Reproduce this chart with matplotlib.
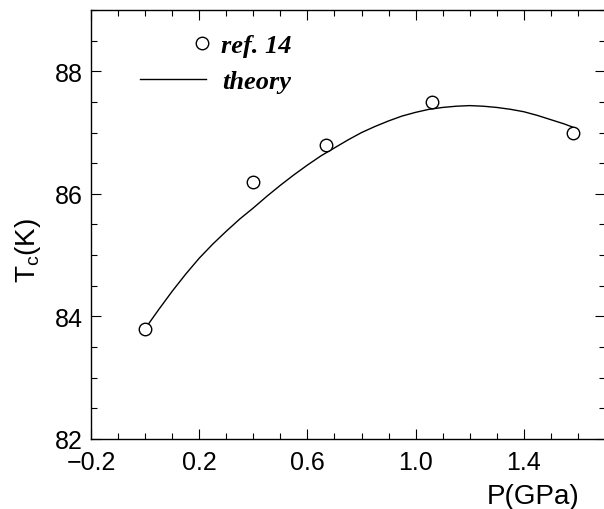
import matplotlib
matplotlib.use('Agg')
import matplotlib.pyplot as plt
from matplotlib.ticker import MultipleLocator

plt.rcParams['font.family'] = ['Liberation Sans', 'DejaVu Sans']
plt.rcParams['mathtext.fontset'] = 'custom'
plt.rcParams['mathtext.rm'] = 'Liberation Sans'
plt.rcParams['mathtext.it'] = 'Liberation Sans'

# Datos experimentales (ref. 14)
p_exp = [0.0, 0.40, 0.67, 1.06, 1.58]
tc_exp = [83.8, 86.2, 86.8, 87.5, 87.0]

# Curva teorica
p_th = [0.00, 0.05, 0.10, 0.15, 0.20, 0.25, 0.30, 0.35, 0.40, 0.45, 0.50,
        0.55, 0.60, 0.65, 0.70, 0.75, 0.80, 0.85, 0.90, 0.95, 1.00, 1.05,
        1.10, 1.15, 1.20, 1.25, 1.30, 1.35, 1.40, 1.45, 1.50, 1.55, 1.58]
tc_th = [83.80, 84.11, 84.41, 84.69, 84.95, 85.18, 85.39, 85.59, 85.77,
         85.96, 86.14, 86.31, 86.47, 86.62, 86.75, 86.88, 87.00, 87.10,
         87.19, 87.27, 87.33, 87.38, 87.41, 87.43, 87.44, 87.43, 87.41,
         87.38, 87.34, 87.28, 87.21, 87.14, 87.09]

W, H = 604, 510
fig = plt.figure(figsize=(W / 100, H / 100), dpi=100)
# el borde derecho queda justo fuera de la imagen, como en el original
ax = fig.add_axes([91 / W, 1 - 440 / H, (605 - 91) / W, (440 - 11) / H])

ax.plot(p_th, tc_th, color='black', lw=1.0)
ax.plot(p_exp, tc_exp, 'o', mfc='white', mec='black', ms=9, mew=1.0,
        linestyle='none')

ax.set_xlim(-0.2, 1.7)
ax.set_ylim(82, 89)
ax.xaxis.set_minor_locator(MultipleLocator(0.1))
ax.yaxis.set_major_locator(MultipleLocator(2))
ax.yaxis.set_minor_locator(MultipleLocator(0.5))
ax.set_xticks([-0.2, 0.2, 0.6, 1.0, 1.4])
ax.set_xticklabels(['\u22120.2', '0.2', '0.6', '1.0', '1.4'])
ax.tick_params(which='both', direction='in', top=True, right=True,
               labelsize=18, width=0.8)
ax.tick_params(which='major', length=7)
ax.tick_params(which='minor', length=4)
ax.tick_params(axis='x', pad=8)
ax.tick_params(axis='y', pad=6)
for s in ax.spines.values():
    s.set_linewidth(1.0)

# Leyenda: dos cajas para imitar la disposicion original
fs = 19
fp = {'family': 'Liberation Serif', 'weight': 'bold', 'style': 'italic', 'size': fs}
h1, = ax.plot([], [], 'o', mfc='white', mec='black', ms=9, mew=1.0)
h2, = ax.plot([], [], color='black', lw=1.0)
leg1 = ax.legend([h1], ['ref. 14'], loc='center left', prop=fp, frameon=False,
                 borderpad=0, borderaxespad=0, handlelength=0.5,
                 handletextpad=0.5, bbox_to_anchor=(195 / W, 1 - 46 / H),
                 bbox_transform=fig.transFigure)
ax.add_artist(leg1)
ax.legend([h2], ['theory'], loc='center left', prop=fp, frameon=False,
          borderpad=0, borderaxespad=0, handlelength=2.5,
          handletextpad=0.6, bbox_to_anchor=(140 / W, 1 - 82 / H),
          bbox_transform=fig.transFigure)

fig.text(533 / W, 1 - 497 / H, 'P(GPa)', fontsize=20, ha='center', va='center')
fig.text(28 / W, 1 - 250 / H, r'T$_\mathrm{c}$(K)', fontsize=20, rotation=90,
         ha='center', va='center')

fig.savefig('out.png', dpi=100)
